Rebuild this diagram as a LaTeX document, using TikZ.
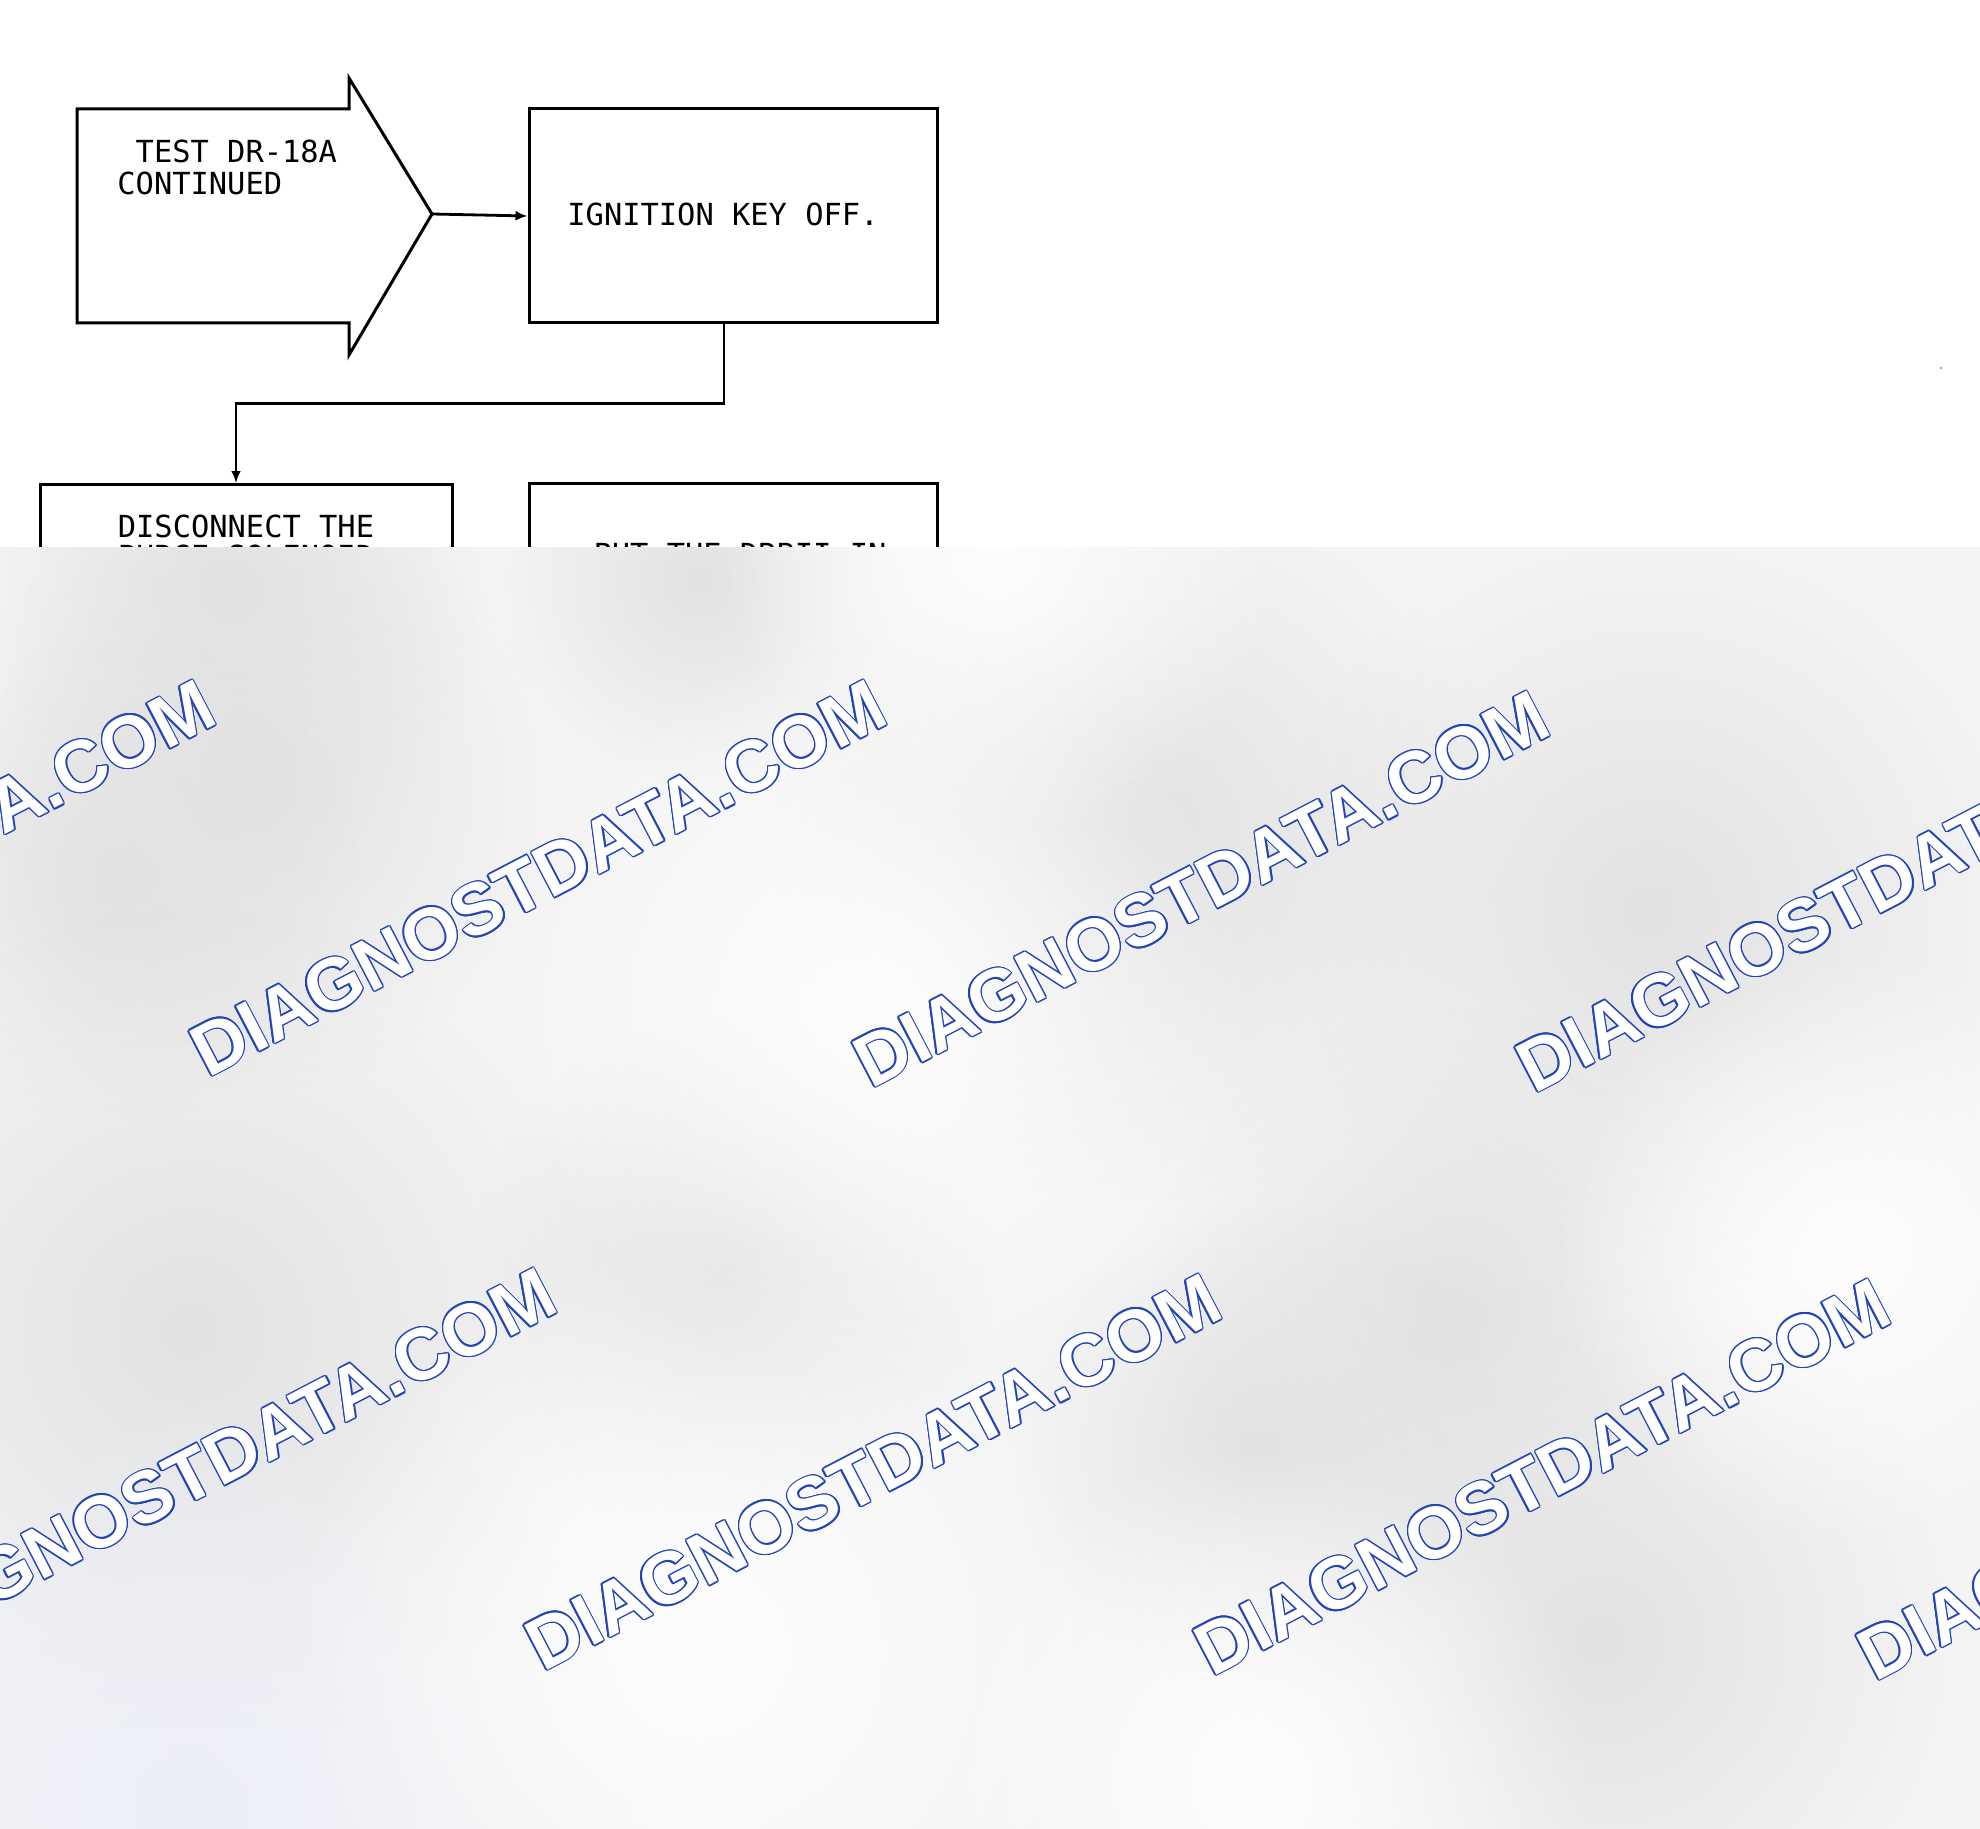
\documentclass[tikz,border=0pt]{standalone}
\usepackage{xcolor}
\usepackage{fontspec}
\usepackage{tikz}
\usetikzlibrary{arrows.meta, positioning, fadings}

\newfontfamily\plotfont{DejaVu Sans Mono}
\newfontfamily\markfont{Liberation Sans}

\definecolor{markblue}{RGB}{34,68,180}
\definecolor{veil}{RGB}{244,244,244}
\definecolor{smudge}{RGB}{226,226,226}
\definecolor{glow}{RGB}{253,253,253}
\definecolor{bluesmudge}{RGB}{236,238,247}

\tikzfading[name=blobfade, inner color=transparent!0, outer color=transparent!100]

% outlined watermark: blue copies round a white one
\newcommand{\wmark}[3]{%
  \foreach \k in {1,...,12}
    \node[wm, text=markblue, shift={(\k*30:0.7pt)}] (#1-\k) at (#2,#3) {DIAGNOSTDATA.COM};
  \node[wm, text=white] (#1) at (#2,#3) {DIAGNOSTDATA.COM};}

\begin{document}
\begin{tikzpicture}[x=0.5pt, y=-0.5pt,
    box/.style={draw, line width=1.5pt, inner sep=0pt},
    txt/.style={font=\plotfont\fontsize{15.2}{14.6}\selectfont, inner sep=0pt, align=center},
    flow/.style={line width=1.4pt, -{Latex[length=6pt, width=5pt]}},
    wm/.style={font=\markfont\bfseries\fontsize{36.6}{40}\selectfont, rotate=27.5, inner sep=0pt}]
  % Page
  \useasboundingbox (0,0) rectangle (1980,1829);
  % Entry arrow
  \draw[line width=1.5pt, line join=miter] (77,109) -- (349,109) -- (349,78) -- (432,214)
    -- (349,355) -- (349,323) -- (77,323) -- cycle;
  \coordinate (tip) at (432,214);
  \node[txt, align=left, anchor=north west, font=\plotfont\fontsize{15.2}{16}\selectfont]
    (start) at (117,140) {\hphantom{X}TEST DR-18A\\CONTINUED};
  % Steps
  \node[box, minimum width=204pt, minimum height=107pt] (ign) at (733,216) {};
  \node[txt] (igntxt) at (723,214) {IGNITION KEY OFF.};
  \node[box, minimum width=206pt, minimum height=130pt, anchor=north] (purge) at (246,483) {};
  \node[txt, anchor=north] (purgetxt) at (246,515) {DISCONNECT THE\\PURGE SOLENOID};
  \node[box, minimum width=204pt, minimum height=130pt, anchor=north] (drb) at (733,482) {};
  \node[txt, anchor=north] (drbtxt) at (740,543) {PUT THE DRBII IN};
  % Connectors
  \draw[flow] (tip) -- (ign.west);
  \draw[flow] ([xshift=-4.5pt]ign.south) -- ++(0,79) -| ([xshift=-5pt]purge.north);
  % Speck
  \fill[gray] (1941,368) circle (1.2);
  % Blurred veil
  \begin{scope}
    \clip (0,547) rectangle (1980,1829);
    \fill[veil] (0,547) rectangle (1980,1829);
    \foreach \bx/\by/\br in {230/590/260, 700/580/200, 250/790/300, 120/880/240,
        1140/840/360, 1650/910/380, 190/1330/420, 730/1280/260,
        1450/1310/300, 1600/1640/360, 1260/1450/240}
      \fill[smudge, path fading=blobfade] (\bx,\by) circle (\br);
    \fill[bluesmudge, path fading=blobfade] (190,1810) circle (440);
    \foreach \bx/\by/\br in {880/1010/380, 700/1650/420, 1260/1780/340, 1000/560/280, 1850/1250/300}
      \fill[glow, path fading=blobfade] (\bx,\by) circle (\br);
    % Watermarks
    \wmark{wa}{-133}{878}
    \wmark{wb}{538}{878}
    \wmark{wc}{1201}{889}
    \wmark{wd}{1864}{894}
    \wmark{we}{208}{1466}
    \wmark{wf}{873}{1472}
    \wmark{wg}{1542}{1477}
    \wmark{wh}{2205}{1482}
    \wmark{wi}{-144}{2040}
    \wmark{wj}{519}{2046}
    \wmark{wk}{1182}{2052}
  \end{scope}
\end{tikzpicture}
\end{document}
